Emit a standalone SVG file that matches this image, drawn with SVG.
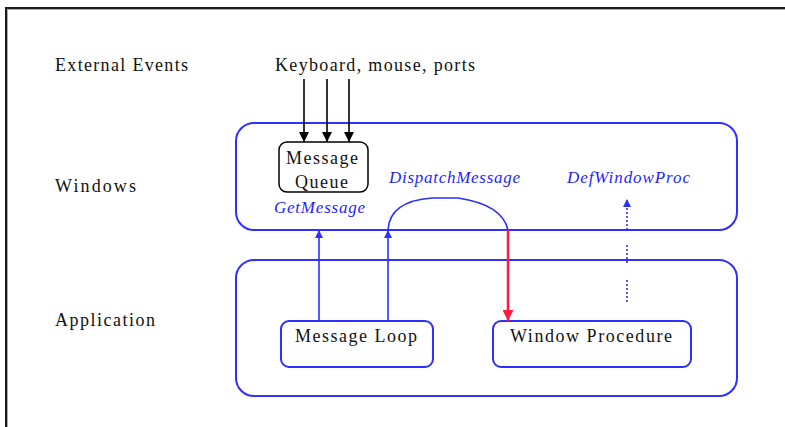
<svg xmlns="http://www.w3.org/2000/svg" width="785" height="427" viewBox="0 0 785 427">
<defs>
<style>
.lbl{font-family:'Liberation Serif','DejaVu Serif',Times,serif;font-size:18px;fill:#111}
.api{font-family:'Liberation Serif','DejaVu Serif',Times,serif;font-size:17px;font-style:italic;fill:#1f1fff}
.box{fill:none;stroke:#2f2fff;stroke-width:2}
.blk{stroke:#000;stroke-width:1.6;fill:none}
.blu{stroke:#2f2fff;stroke-width:1.6;fill:none}
</style>
<marker id="ab" viewBox="0 0 10 10" refX="10" refY="5" markerWidth="10" markerHeight="10" markerUnits="userSpaceOnUse" orient="auto"><path d="M0,0 L10,5 L0,10 Z" fill="#000"/></marker>
<marker id="au" viewBox="0 0 10 10" refX="10" refY="5" markerWidth="9" markerHeight="8" markerUnits="userSpaceOnUse" orient="auto"><path d="M0,0 L10,5 L0,10 Z" fill="#2f2fff"/></marker>
<marker id="ar" viewBox="0 0 10 10" refX="10" refY="5" markerWidth="11" markerHeight="11" markerUnits="userSpaceOnUse" orient="auto"><path d="M0,0 L10,5 L0,10 Z" fill="#ff1a40"/></marker>
</defs>
<rect width="785" height="427" fill="#fff"/>
<g id="frame">
<path d="M6,427 V8 H785" fill="none" stroke="#1a1a1a" stroke-width="2"/>
<path d="M7.5,427 V9.5 H785" fill="none" stroke="#aaa" stroke-width="1"/>
</g>
<g id="labels">
<text class="lbl" font-family="Liberation Serif, serif" x="55" y="71" textLength="133" lengthAdjust="spacing">External Events</text>
<text class="lbl" font-family="Liberation Serif, serif" x="55" y="192" textLength="81" lengthAdjust="spacing">Windows</text>
<text class="lbl" font-family="Liberation Serif, serif" x="55" y="326" textLength="100" lengthAdjust="spacing">Application</text>
<text class="lbl" font-family="Liberation Serif, serif" x="275" y="71" textLength="200" lengthAdjust="spacing">Keyboard, mouse, ports</text>
</g>
<g id="windows">
<rect class="box" x="236" y="123" width="501" height="107" rx="18" ry="18"/>
</g>
<g id="application">
<rect class="box" x="236" y="260" width="501" height="136" rx="18" ry="18"/>
</g>
<g id="message-queue">
<rect x="279" y="142" width="89" height="50" rx="8" ry="8" fill="#fff" stroke="#000" stroke-width="1.5"/>
<text class="lbl" x="286" y="164" textLength="72" lengthAdjust="spacing">Message</text>
<text class="lbl" x="295" y="188" textLength="53" lengthAdjust="spacing">Queue</text>
</g>
<g id="message-loop">
<rect class="box" x="281" y="321" width="152" height="46" rx="8" ry="8"/>
<text class="lbl" x="295" y="342" textLength="122" lengthAdjust="spacing">Message Loop</text>
</g>
<g id="window-procedure">
<rect class="box" x="493" y="321" width="198" height="46" rx="8" ry="8"/>
<text class="lbl" x="510" y="342" textLength="162" lengthAdjust="spacing">Window Procedure</text>
</g>
<g id="api-labels">
<text class="api" x="274" y="213" textLength="91" lengthAdjust="spacing">GetMessage</text>
<text class="api" x="389" y="183" textLength="131" lengthAdjust="spacing">DispatchMessage</text>
<text class="api" x="567" y="183" textLength="123" lengthAdjust="spacing">DefWindowProc</text>
</g>
<g id="connectors">
<line class="blk" x1="304" y1="79" x2="304" y2="142" marker-end="url(#ab)"/>
<line class="blk" x1="327" y1="79" x2="327" y2="142" marker-end="url(#ab)"/>
<line class="blk" x1="349" y1="79" x2="349" y2="142" marker-end="url(#ab)"/>
<line class="blu" x1="319" y1="321" x2="319" y2="230" marker-end="url(#au)"/>
<line class="blu" x1="388" y1="321" x2="388" y2="230" marker-end="url(#au)"/>
<path class="blu" d="M388,230 C389,210 405,200 432,198 L458,198 C485,202 504,212 508,230"/>
<line x1="508" y1="230" x2="508" y2="321" stroke="#ff1a40" stroke-width="2.5" marker-end="url(#ar)"/>
<line class="blu" x1="627" y1="230" x2="627" y2="199" stroke-dasharray="2,2" marker-end="url(#au)"/>
<line class="blu" x1="627" y1="245" x2="627" y2="263" stroke-dasharray="2,2"/>
<line class="blu" x1="627" y1="280" x2="627" y2="304" stroke-dasharray="2,2"/>
</g>
</svg>
